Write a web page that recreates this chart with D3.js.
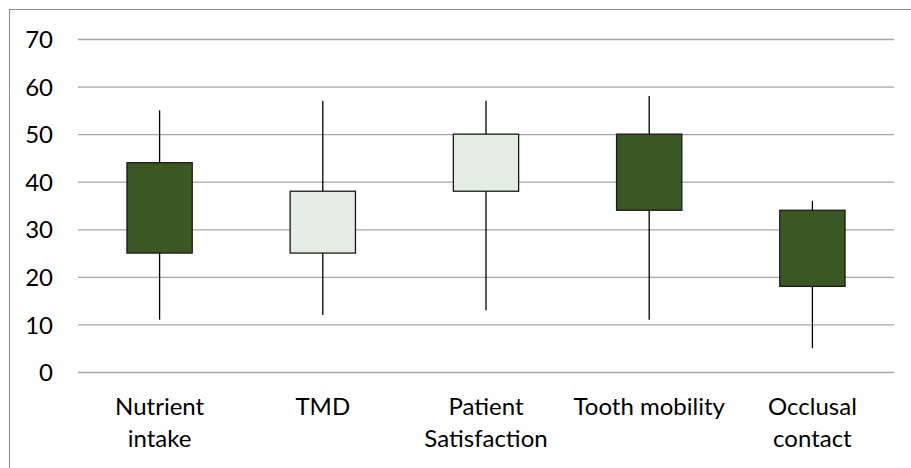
<!DOCTYPE html>
<html>
<head>
<meta charset="utf-8">
<script src="https://cdn.jsdelivr.net/npm/d3@7"></script>
<style>
  html, body { margin: 0; padding: 0; background: #fff; }
  svg { display: block; }
  text { font-family: Lato, "Open Sans", sans-serif; fill: #000; }
</style>
</head>
<body>
<svg id="chart" width="911" height="468"></svg>
<script>
// Outcome domains (label lines separated by "\n")
const categories = ["Nutrient\nintake", "TMD", "Patient\nSatisfaction", "Tooth mobility", "Occlusal\ncontact"];
// Open / high / low / close per domain
const openVals  = [44, 25, 38, 50, 34];
const highVals  = [55, 57, 57, 58, 36];
const lowVals   = [11, 12, 13, 11, 5];
const closeVals = [25, 38, 50, 34, 18];
const yTicks = [0, 10, 20, 30, 40, 50, 60, 70];

const rows = categories.map((c, i) => ({
  cat: c, open: openVals[i], high: highVals[i], low: lowVals[i], close: closeVals[i]
}));

const svg = d3.select("#chart");
const plot = { left: 78, right: 894, top: 39, bottom: 372 };

// Chart-area frame (runs off the right and bottom of the page)
svg.append("rect")
  .attr("x", 9.5).attr("y", 9.5)
  .attr("width", 1000).attr("height", 1000)
  .attr("fill", "none").attr("stroke", "#8c8c8c").attr("stroke-width", 1);

const x = d3.scaleBand().domain(categories).range([plot.left, plot.right]).padding(0);
const y = d3.scaleLinear().domain([0, 70]).range([plot.bottom, plot.top]);

// Value axis with gridlines
const yAxis = svg.append("g")
  .attr("transform", `translate(${plot.left},0)`)
  .call(d3.axisLeft(y).tickValues(yTicks).tickSize(-(plot.right - plot.left)).tickPadding(25));
yAxis.select(".domain").remove();
yAxis.selectAll(".tick line").attr("stroke", "#a6a6a6").attr("stroke-width", 1.3);
yAxis.selectAll(".tick text")
  .attr("font-size", 24).attr("font-family", "Lato, sans-serif").attr("fill", "#000")
  .attr("dy", "0.36em");

// Category axis labels
const xAxis = svg.append("g")
  .attr("transform", `translate(0,${plot.bottom})`)
  .call(d3.axisBottom(x).tickSize(0).tickFormat(""));
xAxis.select(".domain").remove();
xAxis.selectAll(".tick").each(function(d) {
  const t = d3.select(this).append("text")
    .attr("text-anchor", "middle").attr("font-size", 24)
    .attr("font-family", "Lato, sans-serif").attr("fill", "#000");
  d.split("\n").forEach((line, k) => {
    t.append("tspan").attr("x", 0).attr("y", 43 + k * 32).text(line);
  });
});

// Candles: high-low whisker and open-close box
const boxW = x.bandwidth() * 0.4;
const candle = svg.append("g").selectAll("g").data(rows).join("g")
  .attr("transform", d => `translate(${x(d.cat) + x.bandwidth() / 2},0)`);

candle.append("line")
  .attr("x1", 0).attr("x2", 0)
  .attr("y1", d => y(d.high)).attr("y2", d => y(d.low))
  .attr("stroke", "#000").attr("stroke-width", 1.3);

candle.append("rect")
  .attr("x", -boxW / 2).attr("width", boxW)
  .attr("y", d => y(Math.max(d.open, d.close)))
  .attr("height", d => Math.abs(y(d.open) - y(d.close)))
  .attr("fill", d => d.close < d.open ? "#3a5823" : "#e4ede3")
  .attr("stroke", "#1a1a1a").attr("stroke-width", 1.3);
</script>
</body>
</html>
